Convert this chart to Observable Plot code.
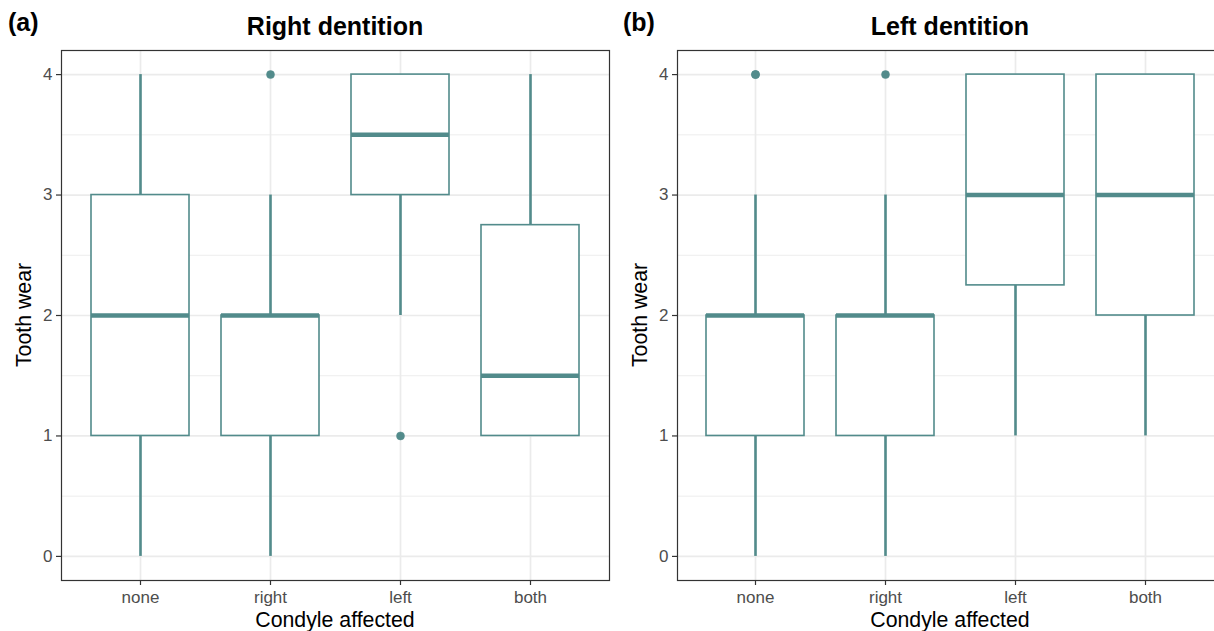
<!DOCTYPE html>
<html>
<head>
<meta charset="utf-8">
<script src="https://cdn.jsdelivr.net/npm/d3@7"></script>
<script src="https://cdn.jsdelivr.net/npm/@observablehq/plot@0.6"></script>
<style>
  html, body { margin: 0; padding: 0; background: #fff; overflow: hidden; }
  #wrap { position: relative; width: 1214px; height: 631px; overflow: hidden; font-family: "Liberation Sans", Arial, Helvetica, sans-serif; }
  .panel { position: absolute; top: 0; width: 615px; height: 631px; }
  .panel svg { max-width: none !important; }
  .txt { position: absolute; white-space: nowrap; color: #000; line-height: 1.15; }
  .tag { font-weight: bold; font-size: 25px; }
  .title { font-weight: bold; font-size: 25px; transform: translateX(-50%); }
  .xlab { font-size: 21.3px; transform: translateX(-50%); }
  .ylab { font-size: 21.3px; transform: translate(-50%, -50%) rotate(-90deg); }
</style>
</head>
<body>
<div id="wrap"></div>
<script>
const categories = ["none", "right", "left", "both"];
const yTicks = [0, 1, 2, 3, 4];
const minorTicks = [0.5, 1.5, 2.5, 3.5];

// Panel (a): Right dentition
const rightLo  = [0, 0, 2, 1];
const rightQ1  = [1, 1, 3, 1];
const rightMed = [2, 2, 3.5, 1.5];
const rightQ3  = [3, 2, 4, 2.75];
const rightHi  = [4, 3, 4, 4];
const rightOutCat = ["right", "left"];
const rightOutVal = [4, 1];

// Panel (b): Left dentition
const leftLo  = [0, 0, 1, 1];
const leftQ1  = [1, 1, 2.25, 2];
const leftMed = [2, 2, 3, 3];
const leftQ3  = [2, 2, 4, 4];
const leftHi  = [3, 3, 4, 4];
const leftOutCat = ["none", "none", "right"];
const leftOutVal = [4, 4, 4];

const teal = "#528B8B";

function makePanel(lo, q1, med, q3, hi, outCat, outVal, opts) {
  const boxes = categories.map((c, i) => ({cat: c, lo: lo[i], q1: q1[i], med: med[i], q3: q3[i], hi: hi[i]}));
  const outs = outCat.map((c, i) => ({cat: c, v: outVal[i]}));
  return Plot.plot({
    width: opts.width,
    height: 631,
    marginTop: 50,
    marginBottom: 51,
    marginLeft: opts.marginLeft,
    marginRight: opts.marginRight,
    style: {fontFamily: "Liberation Sans, Arial, Helvetica, sans-serif", fontSize: "17px", background: "transparent", maxWidth: "none"},
    x: {type: "band", domain: categories, paddingInner: 0.25, paddingOuter: 0.225, label: null},
    y: {domain: [-0.2, 4.2], label: null},
    marks: [
      Plot.ruleY(minorTicks, {stroke: "#EBEBEB", strokeWidth: 0.9}),
      Plot.gridY(yTicks, {stroke: "#EBEBEB", strokeOpacity: 1, strokeWidth: 1.7}),
      Plot.gridX(categories, {stroke: "#EBEBEB", strokeOpacity: 1, strokeWidth: 1.7}),
      Plot.ruleX(boxes, {x: "cat", y1: "lo", y2: "q1", stroke: teal, strokeWidth: 2.6}),
      Plot.ruleX(boxes, {x: "cat", y1: "q3", y2: "hi", stroke: teal, strokeWidth: 2.6}),
      Plot.barY(boxes, {x: "cat", y1: "q1", y2: "q3", fill: "white", stroke: teal, strokeWidth: 1.6}),
      Plot.tickY(boxes, {x: "cat", y: "med", stroke: teal, strokeWidth: 4.5}),
      Plot.dot(outs, {x: "cat", y: "v", r: 4, fill: teal, stroke: teal, strokeWidth: 0.5}),
      Plot.frame({stroke: "#333", strokeWidth: 1.2}),
      Plot.axisY(yTicks, {tickSize: 5, tickPadding: 4, fontSize: 17, tickFormat: d3.format("d"), stroke: "#333", fill: "#4D4D4D", strokeWidth: 1.2, label: null}),
      Plot.axisX(categories, {tickSize: 5, tickPadding: 5, fontSize: 17, stroke: "#333", fill: "#4D4D4D", strokeWidth: 1.2, label: null})
    ]
  });
}

const wrap = document.getElementById("wrap");

function addPanel(left, svg) {
  const d = document.createElement("div");
  d.className = "panel";
  d.style.left = left + "px";
  d.appendChild(svg);
  wrap.appendChild(d);
}
function addText(cls, text, x, y) {
  const d = document.createElement("div");
  d.className = "txt " + cls;
  d.textContent = text;
  d.style.left = x + "px";
  d.style.top = y + "px";
  wrap.appendChild(d);
}

addPanel(0, makePanel(rightLo, rightQ1, rightMed, rightQ3, rightHi, rightOutCat, rightOutVal,
  {width: 615, marginLeft: 61, marginRight: 6}));
addPanel(615, makePanel(leftLo, leftQ1, leftMed, leftQ3, leftHi, leftOutCat, leftOutVal,
  {width: 615, marginLeft: 62, marginRight: 7}));

addText("tag", "(a)", 8, 8);
addText("tag", "(b)", 623, 8);
addText("title", "Right dentition", 335, 12);
addText("title", "Left dentition", 950, 12);
addText("xlab", "Condyle affected", 335, 608);
addText("xlab", "Condyle affected", 950, 608);
addText("ylab", "Tooth wear", 24, 315);
addText("ylab", "Tooth wear", 640, 315);
</script>
</body>
</html>
